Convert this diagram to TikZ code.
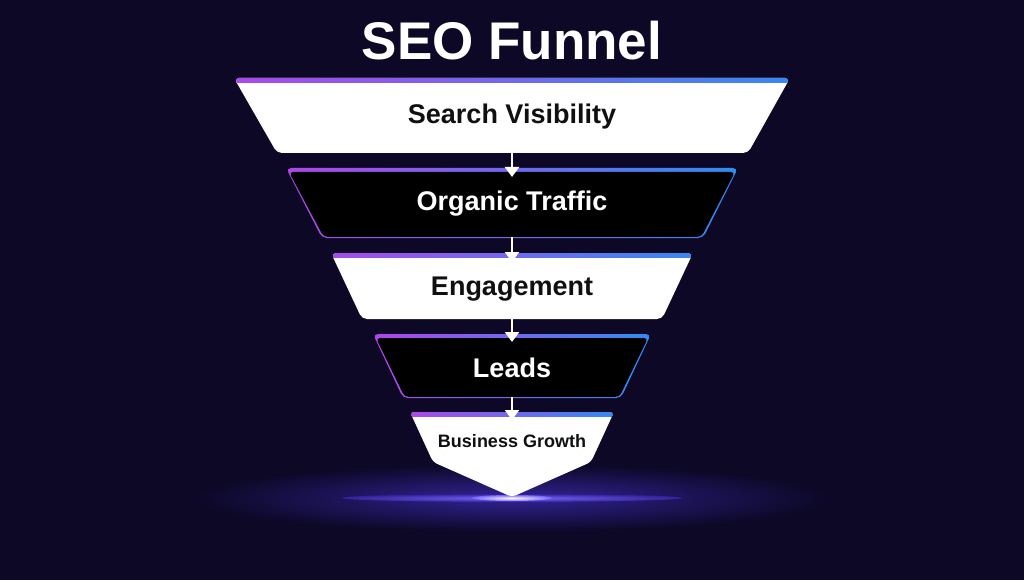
\documentclass[tikz,border=0pt]{standalone}
\usepackage{fontspec}
\setmainfont{Liberation Sans}
\usetikzlibrary{arrows.meta}

\definecolor{bgNavy}{RGB}{12,8,38}
\definecolor{funPurple}{RGB}{176,70,232}
\definecolor{funMid}{RGB}{74,58,200}
\definecolor{funBlue}{RGB}{48,140,240}
\definecolor{glowBlue}{RGB}{50,34,150}
\definecolor{glowHot}{RGB}{120,100,255}
\definecolor{inkDark}{RGB}{16,16,18}

\tikzset{
  edgeband/.style={left color=funPurple, middle color=funMid, right color=funBlue},
  lightlabel/.style={text=inkDark, font=\bfseries\fontsize{27}{30}\selectfont},
  darklabel/.style={text=white, font=\bfseries\fontsize{27}{30}\selectfont},
  flowarrow/.style={draw=white, line width=2.4pt, -{Triangle[width=14pt,length=10pt]}}
}

\begin{document}
\begin{tikzpicture}[x=1pt, y=-1pt]

    % background
    \fill[bgNavy] (0,0) rectangle (1024,580);
    \useasboundingbox (0,0) rectangle (1024,580);

    % glow under the tip
    \shade[inner color=glowBlue, outer color=bgNavy] (512,498) ellipse (320 and 34);
    \shade[inner color=glowHot, outer color=glowBlue] (512,498) ellipse (170 and 4);
    \shade[inner color=white, outer color=glowHot] (512,498) ellipse (40 and 3);

    % title
    \node[text=white, font=\bfseries\fontsize{53}{56}\selectfont] (title) at (512,41) {SEO Funnel};

    % first stage, white
    \begin{scope}
        \clip[rounded corners=5pt] (234,78) -- (790,78) -- (748,153) -- (277,153) -- cycle;
        \fill[white] (200,70) rectangle (830,160);
        \shade[edgeband] (200,76) rectangle (830,82.5);
    \end{scope}

    % second stage, dark
    \shade[edgeband, rounded corners=5pt] (286,168) -- (738,168) -- (703,238) -- (322,238) -- cycle;
    \fill[black, rounded corners=4pt] (289,172) -- (735,172) -- (701.5,236.8) -- (323.5,236.8) -- cycle;

    % third stage, white
    \begin{scope}
        \clip[rounded corners=5pt] (331,253) -- (693,253) -- (662,319) -- (362,319) -- cycle;
        \fill[white] (300,245) rectangle (720,325);
        \shade[edgeband] (300,251) rectangle (720,257.5);
    \end{scope}

    % fourth stage, dark
    \shade[edgeband, rounded corners=5pt] (373,334) -- (651,334) -- (621,398) -- (403,398) -- cycle;
    \fill[black, rounded corners=4pt] (376,338) -- (648,338) -- (619.5,396.8) -- (404.5,396.8) -- cycle;

    % last stage, the tip
    \begin{scope}
        \clip[rounded corners=4pt] (410,412) -- (614,412) -- (591,462) -- (512,497) -- (433,462) -- cycle;
        \fill[white] (400,405) rectangle (625,500);
        \shade[edgeband] (400,410) rectangle (625,416);
    \end{scope}

    % these are the labels
    \node[lightlabel] (vis) at (512,117) {Search Visibility};
    \node[darklabel] (traffic) at (512,204) {Organic Traffic};
    \node[lightlabel] (engage) at (512,289) {Engagement};
    \node[darklabel] (leads) at (512,368) {Leads};
    \node[text=inkDark, font=\bfseries\fontsize{18}{20}\selectfont] (growth) at (512,441) {Business Growth};

    % arrow ends
    \coordinate (visB) at (512,152);
    \coordinate (trafT) at (512,177);
    \coordinate (trafB) at (512,237);
    \coordinate (engT) at (512,262);
    \coordinate (engB) at (512,318);
    \coordinate (leadT) at (512,342);
    \coordinate (leadB) at (512,397);
    \coordinate (growT) at (512,420);

    \draw[flowarrow] (visB) -- (trafT);
    \draw[flowarrow] (trafB) -- (engT);
    \draw[flowarrow] (engB) -- (leadT);
    \draw[flowarrow] (leadB) -- (growT);

\end{tikzpicture}
\end{document}
